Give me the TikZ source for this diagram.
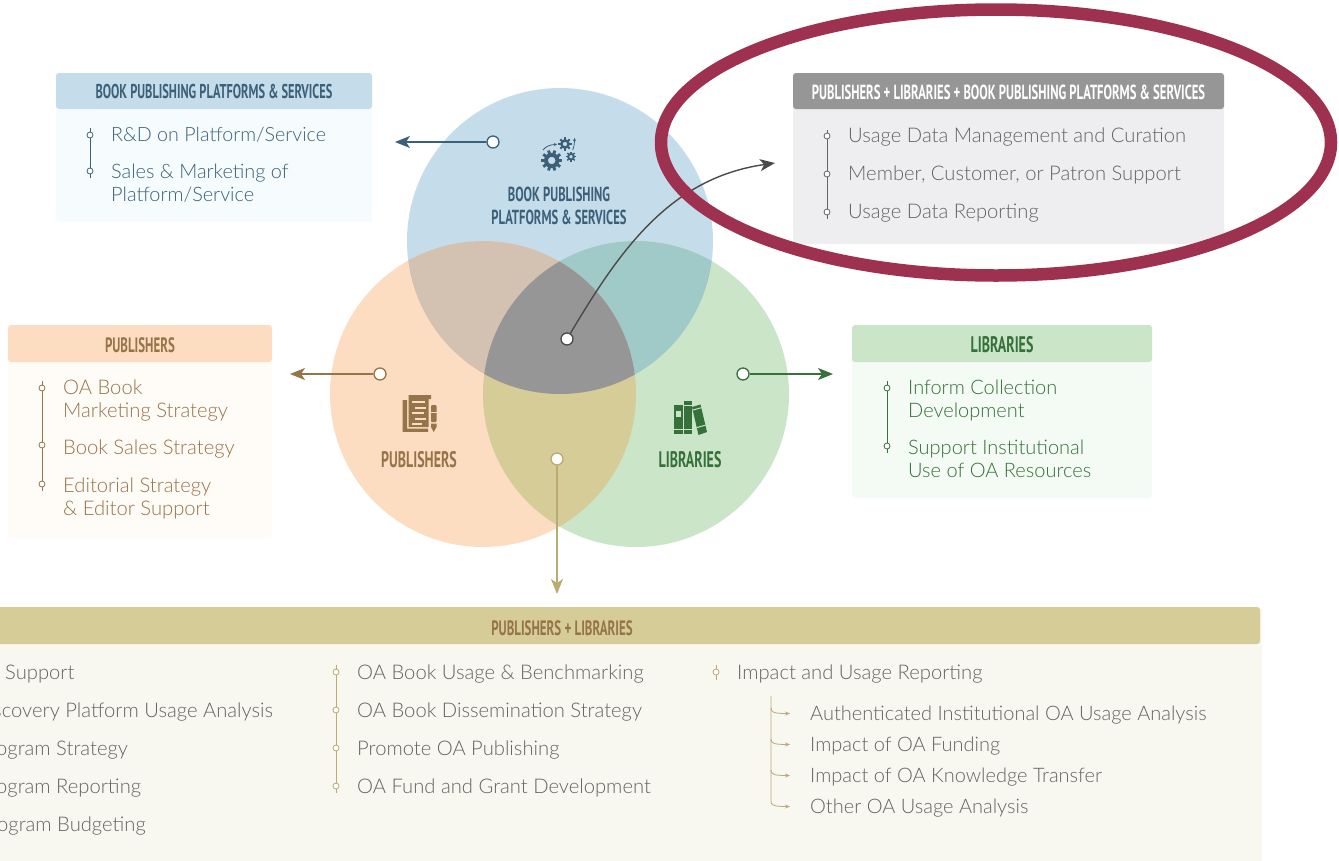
\documentclass[tikz,border=0pt]{standalone}
\usepackage{fontspec}
\setmainfont{Lato Light}
\newfontfamily\hdfont[FakeStretch=0.62]{PT Sans Bold}
\usetikzlibrary{arrows.meta}
\definecolor{cblue}{HTML}{C5DCEA}
\definecolor{corange}{HTML}{FDDDC1}
\definecolor{cgreen}{HTML}{CBE5C9}
\definecolor{cbo}{HTML}{D3C2B1}
\definecolor{cbg}{HTML}{9FCAC7}
\definecolor{cog}{HTML}{D6CC98}
\definecolor{call}{HTML}{969696}
\definecolor{bblue}{HTML}{F6FCFD}
\definecolor{bgray}{HTML}{EEEDF0}
\definecolor{borange}{HTML}{FFFBF6}
\definecolor{bgreen}{HTML}{F4FAF4}
\definecolor{btan}{HTML}{F8F7F0}
\definecolor{tblue}{HTML}{3D6079}
\definecolor{tbrown}{HTML}{96744A}
\definecolor{tgreen}{HTML}{36703A}
\definecolor{tgray}{HTML}{646464}
\definecolor{darkarrow}{HTML}{4A4A4A}
\definecolor{tan}{HTML}{B9AB72}
\definecolor{maroon}{HTML}{9E3050}
\tikzset{
  x=1pt,y=-1pt,
  hd/.style={font=\hdfont\fontsize{#1}{22.5}\selectfont,inner sep=0pt,anchor=center,align=center},
  hd/.default=21,
  bd/.style={font=\fontsize{#1}{23}\selectfont,inner sep=0pt,anchor=west,align=left,yshift=-1.5pt},
  bd/.default=20.2,
  tick/.style={circle,draw=#1,fill=white,line width=.8pt,minimum size=6pt,inner sep=0pt},
  bigdot/.style={circle,draw=#1,fill=white,line width=1.3pt,minimum size=12pt,inner sep=0pt},
  rail/.style={draw=#1,line width=.9pt},
  arr/.style={draw=#1,line width=1.4pt,-{Stealth[length=15pt,width=12pt,inset=4pt]}},
  small/.style={draw=tan,line width=.8pt,-{Stealth[length=5pt,width=4pt]}},
}
\begin{document}
\begin{tikzpicture}
\useasboundingbox (0,0) rectangle (1339,860);
% ---- boxes
\fill[rounded corners=3pt,fill=bblue] (56,73) rectangle (372,222);
\fill[rounded corners=3pt,fill=cblue] (56,73) rectangle (372,109);
\fill[rounded corners=3pt,fill=bgray] (793,73) rectangle (1224,244);
\fill[rounded corners=3pt,fill=call] (793,73) rectangle (1224,109);
\fill[rounded corners=3pt,fill=borange] (8,325) rectangle (272,538);
\fill[rounded corners=3pt,fill=corange] (8,325) rectangle (272,362);
\fill[rounded corners=3pt,fill=bgreen] (852,325) rectangle (1152,498);
\fill[rounded corners=3pt,fill=cgreen] (852,325) rectangle (1152,362);
\fill[rounded corners=3pt,fill=btan] (-10,607) rectangle (1262,870);
\fill[rounded corners=3pt,fill=cog] (-10,607) rectangle (1260,644);
% ---- headers
\node[hd=20,text=tblue] (h1) at (214,91.5) {BOOK PUBLISHING PLATFORMS \& SERVICES};
\node[hd=20.4,text=white] (h2) at (1008.5,92.5) {PUBLISHERS + LIBRARIES + BOOK PUBLISHING PLATFORMS \& SERVICES};
\node[hd=20.8,text=tbrown] (h3) at (140,345) {PUBLISHERS};
\node[hd=22.5,text=tgreen] (h4) at (1002,344.5) {LIBRARIES};
\node[hd=20.8,text=tbrown] (h5) at (562,628) {PUBLISHERS + LIBRARIES};
% ---- venn
\fill[cblue] (560,241) circle (153);
\fill[corange] (483,394) circle (153);
\fill[cgreen] (636,394) circle (153);
\begin{scope}\clip (560,241) circle (153); \fill[cbo] (483,394) circle (153); \end{scope}
\begin{scope}\clip (560,241) circle (153); \fill[cbg] (636,394) circle (153); \end{scope}
\begin{scope}\clip (483,394) circle (153); \fill[cog] (636,394) circle (153); \end{scope}
\begin{scope}\clip (560,241) circle (153); \clip (483,394) circle (153); \fill[call] (636,394) circle (153); \end{scope}
% ---- venn labels
\node[hd=20.3,text=tblue] (v1) at (559,206) {BOOK PUBLISHING\\PLATFORMS \& SERVICES};
\node[hd=22.5,text=tbrown] (v2) at (419,460) {PUBLISHERS};
\node[hd=22.5,text=tgreen] (v3) at (690,460) {LIBRARIES};
% ---- gears icon
\begin{scope}[tblue]
  \foreach \cx/\cy/\r/\n in {551.7/160.5/9.5/10, 565/144/6/8, 571/156.7/4.7/8}{
    \draw[line width=\r*0.42pt] (\cx,\cy) circle (\r*0.6);
    \foreach \a in {1,...,\n}{
      \draw[line width=\r*0.3pt] ({\cx+\r*0.7*cos(\a*360/\n)},{\cy+\r*0.7*sin(\a*360/\n)}) -- ({\cx+\r*1.1*cos(\a*360/\n)},{\cy+\r*1.1*sin(\a*360/\n)});
    }
  }
  \draw[line width=.8pt,-{Stealth[length=3pt,width=3pt]}] (543,150) .. controls (546,146) and (551,144.5) .. (557,144.5);
  \draw[line width=.8pt,-{Stealth[length=3pt,width=3pt]}] (572.7,150) .. controls (574,147) and (574.5,143) .. (574.5,138);
\end{scope}
% ---- publishers icon
\begin{scope}
  \fill[tbrown] (402.5,400) -- (402.5,431.8) -- (428,431.8) -- (428,428.5) -- (407,428.5) -- (407,400) -- cycle;
  \fill[tbrown] (408.5,395) -- (431,395) -- (431,399) -- (428.5,399) -- (428.5,427) -- (408.5,427) -- cycle;
  \foreach \yy/\xa/\xb in {401/412/425, 407/415/426, 412/412/424, 417.5/415/426, 422.5/412/422}{
    \fill[corange] (\xa,\yy) rectangle (\xb,\yy+2);
  }
  \fill[tbrown,rounded corners=1pt] (431,405) rectangle (436.5,422);
  \fill[tbrown] (431,423.5) -- (436.5,423.5) -- (436.5,427) -- (433.7,432) -- (431,427) -- cycle;
  \fill[corange] (431,412) rectangle (436.5,413.3);
\end{scope}
% ---- libraries icon
\begin{scope}
  \fill[tgreen] (674,405) rectangle (682.5,434);
  \fill[tgreen] (683.5,401) rectangle (691.5,434);
  \fill[tgreen] (692,407) -- (700.5,404.5) -- (707,432) -- (698.5,435) -- cycle;
  \fill[cgreen] (676,411) rectangle (681,417);
  \fill[cgreen] (674,428.5) rectangle (691.5,429.8);
  \fill[cgreen] (683.5,404.5) rectangle (691.5,405.6);
  \draw[cgreen,line width=1pt] (693,410) -- (701.4,407.7);
  \draw[cgreen,line width=1pt] (697,427.5) -- (705.4,425.2);
\end{scope}
% ---- arrows
\node[bigdot=tblue] (d1) at (493,142) {};
\coordinate (e1) at (395,142);
\draw[arr=tblue] (d1) -- (e1);
\node[bigdot=tbrown] (d2) at (380,374) {};
\coordinate (e2) at (290,374);
\draw[arr=tbrown] (d2) -- (e2);
\node[bigdot=tgreen] (d3) at (743,374) {};
\coordinate (e3) at (833,374);
\draw[arr=tgreen] (d3) -- (e3);
\node[bigdot=tan] (d4) at (557,459) {};
\coordinate (e4) at (557,594);
\draw[arr=tan] (d4) -- (e4);
% ---- centre connector, under the ellipse
\node[bigdot=darkarrow] (d5) at (567,339) {};
\coordinate (e5) at (775,163);
\draw[arr=darkarrow] (d5) .. controls (620,250) and (670,178) .. (e5);
% ---- ellipse
\draw[maroon,line width=12.5pt] (996,142.5) ellipse (335 and 133);
% ---- blue list
\node[bd=19.7,text=tblue] (b1) at (111,133.5) {R\&D on Platform/Service};
\node[bd=19.9,text=tblue] (b2) at (111,181.5) {Sales \& Marketing of\\Platform/Service};
\node[tick=tblue] (bt1) at (90,135) {};
\node[tick=tblue] (bt2) at (90,171) {};
\draw[rail=tblue] (90,128) -- (bt1) -- (bt2) -- (90,178);
% ---- gray list
\node[bd,text=tgray] (g1) at (848,135.5) {Usage Data Management and Curation};
\node[bd,text=tgray] (g2) at (848,173.5) {Member, Customer, or Patron Support};
\node[bd,text=tgray] (g3) at (848,211.5) {Usage Data Reporting};
\node[tick=tgray] (gt1) at (827,136) {};
\node[tick=tgray] (gt2) at (827,174) {};
\node[tick=tgray] (gt3) at (827,212) {};
\draw[rail=tgray] (827,130) -- (gt1) -- (gt2) -- (gt3) -- (827,219);
% ---- publishers list
\node[bd,text=tbrown] (p1) at (63,399) {OA Book\\Marketing Strategy};
\node[bd,text=tbrown] (p2) at (63,448) {Book Sales Strategy};
\node[bd,text=tbrown] (p3) at (63,497) {Editorial Strategy\\\& Editor Support};
\node[tick=tbrown] (pt1) at (42,388) {};
\node[tick=tbrown] (pt2) at (42,445) {};
\node[tick=tbrown] (pt3) at (42,484) {};
\draw[rail=tbrown] (42,381) -- (pt1) -- (pt2) -- (pt3) -- (42,491);
% ---- libraries list
\node[bd=20,text=tgreen] (l1) at (908,399) {Inform Collection\\Development};
\node[bd=20,text=tgreen] (l2) at (908,457) {Support Institutional\\Use of OA Resources};
\node[tick=tgreen] (lt1) at (887,388) {};
\node[tick=tgreen] (lt2) at (887,446) {};
\draw[rail=tgreen] (887,381) -- (lt1) -- (lt2) -- (887,453);
% ---- bottom lists
\node[bd,text=tgray] (c1) at (5,672.5) {Support};
\node[bd,text=tgray] (c2) at (-7,711) {scovery Platform Usage Analysis};
\node[bd,text=tgray] (c3) at (-4,749) {ogram Strategy};
\node[bd,text=tgray] (c4) at (-4,787) {ogram Reporting};
\node[bd,text=tgray] (c5) at (-3,825) {ogram Budgeting};
\node[bd,text=tgray] (m1) at (357,672.5) {OA Book Usage \& Benchmarking};
\node[bd,text=tgray] (m2) at (357,711) {OA Book Dissemination Strategy};
\node[bd,text=tgray] (m3) at (357,749) {Promote OA Publishing};
\node[bd,text=tgray] (m4) at (357,786.5) {OA Fund and Grant Development};
\node[tick=tan] (mt1) at (336,672) {};
\node[tick=tan] (mt2) at (336,710) {};
\node[tick=tan] (mt3) at (336,748) {};
\node[tick=tan] (mt4) at (336,786) {};
\draw[rail=tan] (336,665) -- (mt1) -- (mt2) -- (mt3) -- (mt4) -- (336,793);
\node[bd,text=tgray] (r0) at (737,672.5) {Impact and Usage Reporting};
\node[tick=tan] (rt) at (716,672) {};
\draw[rail=tan] (716,665) -- (rt) -- (716,680);
\node[bd=20,text=tgray] (r1) at (810,713.5) {Authenticated Institutional OA Usage Analysis};
\node[bd=20,text=tgray] (r2) at (810,744.5) {Impact of OA Funding};
\node[bd=20,text=tgray] (r3) at (810,775.5) {Impact of OA Knowledge Transfer};
\node[bd=20,text=tgray] (r4) at (810,807) {Other OA Usage Analysis};
\coordinate (s0) at (771,696);
\coordinate (s1) at (790,713.5);
\coordinate (s2) at (790,744.5);
\coordinate (s3) at (790,775.5);
\coordinate (s4) at (790,806.5);
\draw[small] (s0) -- (771,708) .. controls (771,712) and (773,713.5) .. (s1);
\draw[small] (771,708) -- (771,739) .. controls (771,743) and (773,744.5) .. (s2);
\draw[small] (771,739) -- (771,770) .. controls (771,774) and (773,775.5) .. (s3);
\draw[small] (771,770) -- (771,801) .. controls (771,805) and (773,806.5) .. (s4);
\end{tikzpicture}
\end{document}
